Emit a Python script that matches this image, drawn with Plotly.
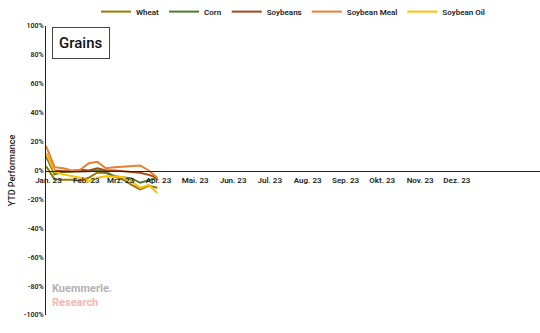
import plotly.graph_objects as go

dates = ["2022-12-30", "2023-01-06", "2023-01-13", "2023-01-20", "2023-01-27",
         "2023-02-03", "2023-02-10", "2023-02-17", "2023-02-24", "2023-03-03",
         "2023-03-10", "2023-03-17", "2023-03-24", "2023-03-31"]

wheat = [3, -6, -6.4, -6.4, -7, -5, -1.4, -1.8, -4, -6.4, -9.9, -13, -10.6, -12]
corn = [10, -2.7, -1, -1, -1, -0.5, 0, -1, -4, -5, -5.5, -8.5, -7, -5]
soybeans = [12, 0, -0.5, -0.5, 0.5, 0, 1.5, 0, 0, -0.5, -1, -1.5, -3, -5]
soybean_meal = [17, 2.3, 1.6, 0, 0.5, 5, 6, 1.6, 2.3, 2.6, 2.8, 3.5, 0, -5]
soybean_oil = [12, -1, -2.7, -4, -5, -7.6, -5, -4, -4.5, -4.5, -7.6, -12, -10, -15.6]

series_names = ["Wheat", "Corn", "Soybeans", "Soybean Meal", "Soybean Oil"]
series_colors = ["#9C7800", "#4E7A2E", "#A5471A", "#ED7D31", "#FFC000"]

month_ticks = ["2023-01-01", "2023-02-01", "2023-03-01", "2023-04-01", "2023-05-01",
               "2023-06-01", "2023-07-01", "2023-08-01", "2023-09-01", "2023-10-01",
               "2023-11-01", "2023-12-01"]
month_labels = ["Jan. 23", "Feb. 23", "Mrz. 23", "Apr. 23", "Mai. 23", "Jun. 23",
                "Jul. 23", "Aug. 23", "Sep. 23", "Okt. 23", "Nov. 23", "Dez. 23"]

y_ticks = [-100, -80, -60, -40, -20, 0, 20, 40, 60, 80, 100]
y_labels = [f"{v}%" for v in y_ticks]

font = "Roboto"
txt = "#222222"

fig = go.Figure()
for name, vals, col in zip(series_names,
                           [wheat, corn, soybeans, soybean_meal, soybean_oil],
                           series_colors):
    fig.add_trace(go.Scatter(x=dates, y=vals, mode="lines", name=name,
                             line=dict(color=col, width=2)))

fig.update_layout(
    width=540, height=333,
    margin=dict(l=46, r=0, t=26, b=18, autoexpand=False),
    paper_bgcolor="white", plot_bgcolor="white",
    font=dict(family=font, size=8, color=txt),
    showlegend=True,
    legend=dict(orientation="h", x=0.5, xanchor="center", y=1.1, yanchor="top",
                yref="paper", font=dict(size=8, color=txt, weight=600),
                itemwidth=30, tracegroupgap=0),
    xaxis=dict(type="date", range=["2022-12-30", "2024-02-07"],
               tickmode="array", tickvals=month_ticks, ticktext=month_labels,
               showgrid=False, zeroline=False, showline=True, linecolor=txt,
               linewidth=1, anchor="free", position=0.5, ticks="",
               tickfont=dict(size=8, color=txt, weight=600), ticklabelstandoff=2),
    yaxis=dict(range=[-100, 100], tickmode="array", tickvals=y_ticks, ticktext=y_labels,
               showgrid=False, zeroline=False, showline=True, linecolor=txt,
               linewidth=1, ticks="", tickfont=dict(size=7, color=txt, weight=600),
               title=dict(text="YTD Performance", font=dict(size=9, color=txt, weight=500),
                          standoff=6)),
)

fig.add_annotation(xref="paper", yref="paper", x=0.013, y=0.995, xanchor="left", yanchor="top",
                   text="Grains", showarrow=False,
                   font=dict(family=font, size=15, color="#111111", weight=500),
                   bordercolor="#444444", borderwidth=1, borderpad=6, bgcolor="white")

fig.add_annotation(xref="paper", yref="paper", x=0.008, y=0.066, xanchor="left", yanchor="middle",
                   align="left",
                   text="<b>Kuemmerle</b><b style='color:#F4A6A0'>.</b><br>"
                        "<b style='color:#F7B7B0'>Research</b>",
                   showarrow=False,
                   font=dict(family=font, size=11, color="#B3B3B3"))

fig.write_html("out.html")
